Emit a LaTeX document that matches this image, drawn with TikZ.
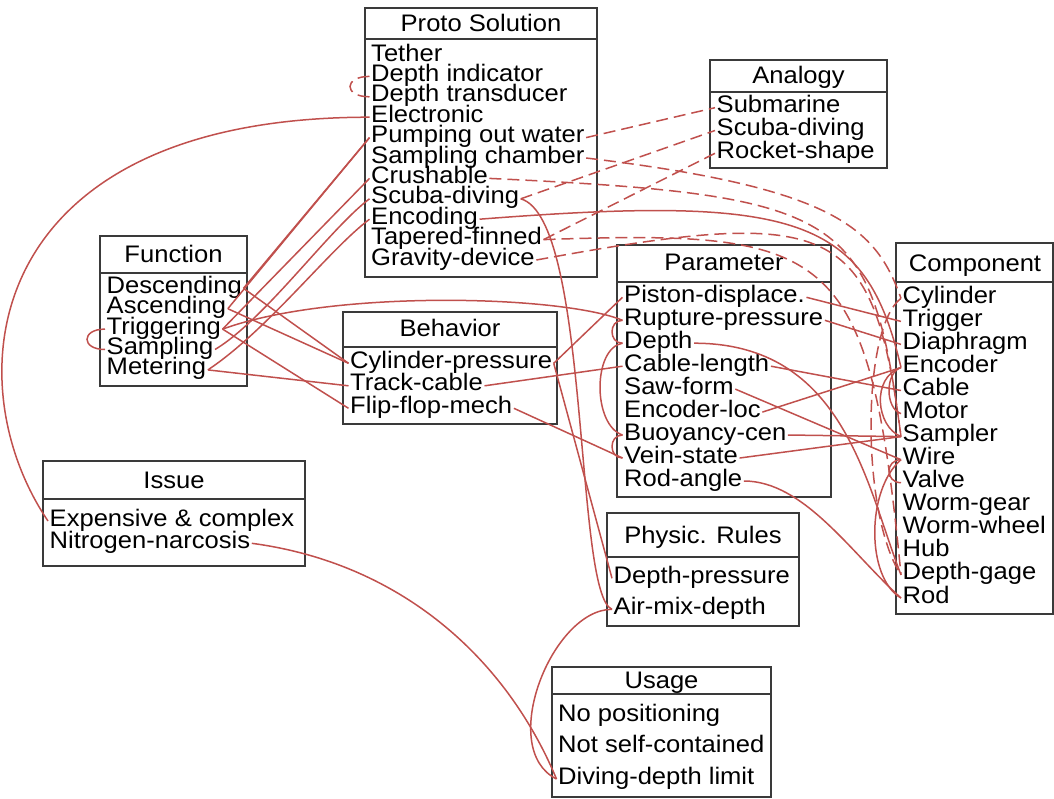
\documentclass[tikz,border=0pt]{standalone}
\usepackage{fontspec}
\setmainfont{Liberation Sans}[FakeStretch=1.07]
\definecolor{linkred}{HTML}{C0504D}
\definecolor{framegray}{HTML}{3A3A3A}
\begin{document}
\begin{tikzpicture}[x=1pt,y=-1pt,
  every node/.style={font=\fontsize{23.9pt}{24pt}\selectfont},
  frame/.style={draw=framegray, line width=1.4pt},
  title/.style={anchor=base, inner sep=0pt},
  item/.style={anchor=base west, inner xsep=1.5pt, inner ysep=0pt, text height=10pt, text depth=0pt},
  link/.style={draw=linkred, line width=1.5pt},
  dlink/.style={link, dash pattern=on 12pt off 6pt},
]
\useasboundingbox (0,0) rectangle (1054,798);

% ---------- Proto Solution ----------
\draw[frame] (365,8) rectangle (597,277);
\draw[frame] (365,39) -- (597,39);
\node[title] (t-proto) at (481,31) {Proto Solution};
\node[item] (ps-tether) at (369.5,61)   {Tether};
\node[item] (ps-dind)   at (369.5,81.4) {Depth indicator};
\node[item] (ps-dtra)   at (369.5,101.8){Depth transducer};
\node[item] (ps-elec)   at (369.5,122.2){Electronic};
\node[item] (ps-pump)   at (369.5,142.6){Pumping out water};
\node[item] (ps-samp)   at (369.5,163)  {Sampling chamber};
\node[item] (ps-crush)  at (369.5,183.4){Crushable};
\node[item] (ps-scuba)  at (369.5,203.8){Scuba-diving};
\node[item] (ps-enc)    at (369.5,224.2){Encoding};
\node[item] (ps-taper)  at (369.5,244.6){Tapered-finned};
\node[item] (ps-grav)   at (369.5,265)  {Gravity-device};

% ---------- Analogy ----------
\draw[frame] (710,60) rectangle (887,168);
\draw[frame] (710,92) -- (887,92);
\node[title] (t-analogy) at (798.5,83) {Analogy};
\node[item] (an-sub)   at (715,112.7) {Submarine};
\node[item] (an-scuba) at (715,135.5) {Scuba-diving};
\node[item] (an-rock)  at (715,158.3) {Rocket-shape};

% ---------- Function ----------
\draw[frame] (100,236) rectangle (247,386);
\draw[frame] (100,273) -- (247,273);
\node[title] (t-function) at (173.5,262) {Function};
\node[item] (fn-desc) at (105,293.3) {Descending};
\node[item] (fn-asc)  at (105,313.7) {Ascending};
\node[item] (fn-trig) at (105,334.1) {Triggering};
\node[item] (fn-samp) at (105,354.5) {Sampling};
\node[item] (fn-met)  at (105,374.9) {Metering};

% ---------- Behavior ----------
\draw[frame] (343,312) rectangle (557,424);
\draw[frame] (343,347) -- (557,347);
\node[title] (t-behavior) at (450,336) {Behavior};
\node[item] (bh-cyl)   at (348.5,368.3) {Cylinder-pressure};
\node[item] (bh-track) at (348.5,390.8) {Track-cable};
\node[item] (bh-flip)  at (348.5,413.3) {Flip-flop-mech};

% ---------- Parameter ----------
\draw[frame] (617,245) rectangle (831,497);
\draw[frame] (617,282) -- (831,282);
\node[title] (t-parameter) at (724,270) {Parameter};
\node[item] (pa-pist)  at (622.5,302.3) {Piston-displace.};
\node[item] (pa-rupt)  at (622.5,325.3) {Rupture-pressure};
\node[item] (pa-depth) at (622.5,348.2) {Depth};
\node[item] (pa-cable) at (622.5,371.2) {Cable-length};
\node[item] (pa-saw)   at (622.5,394.1) {Saw-form};
\node[item] (pa-encl)  at (622.5,417.1) {Encoder-loc};
\node[item] (pa-buoy)  at (622.5,440)   {Buoyancy-cen};
\node[item] (pa-vein)  at (622.5,463)   {Vein-state};
\node[item] (pa-rod)   at (622.5,486)   {Rod-angle};

% ---------- Component ----------
\draw[frame] (896,243) rectangle (1053,614);
\draw[frame] (896,282) -- (1053,282);
\node[title] (t-component) at (975,271) {Component};
\node[item] (co-cyl)    at (901,303.3) {Cylinder};
\node[item] (co-trig)   at (901,326.4) {Trigger};
\node[item] (co-diaph)  at (901,349.4) {Diaphragm};
\node[item] (co-enc)    at (901,372.5) {Encoder};
\node[item] (co-cable)  at (901,395.5) {Cable};
\node[item] (co-motor)  at (901,418.6) {Motor};
\node[item] (co-samp)   at (901,441.6) {Sampler};
\node[item] (co-wire)   at (901,464.7) {Wire};
\node[item] (co-valve)  at (901,487.7) {Valve};
\node[item] (co-wgear)  at (901,510.8) {Worm-gear};
\node[item] (co-wwheel) at (901,533.8) {Worm-wheel};
\node[item] (co-hub)    at (901,556.9) {Hub};
\node[item] (co-dgage)  at (901,579.9) {Depth-gage};
\node[item] (co-rod)    at (901,603)   {Rod};

% ---------- Issue ----------
\draw[frame] (43,461) rectangle (305,566);
\draw[frame] (43,499) -- (305,499);
\node[title] (t-issue) at (174,488.4) {Issue};
\node[item] (is-exp)   at (48,526)   {Expensive \& complex};
\node[item] (is-nitro) at (48,548.3) {Nitrogen-narcosis};

% ---------- Physic. Rules ----------
\draw[frame] (607,513) rectangle (799,626);
\draw[frame] (607,557) -- (799,557);
\node[title] (t-physic) at (703,543.3) {Physic. Rules};
\node[item] (pr-dp)  at (612,583.3) {Depth-pressure};
\node[item] (pr-air) at (612,614.3) {Air-mix-depth};

% ---------- Usage ----------
\draw[frame] (552,667) rectangle (771,797);
\draw[frame] (552,694) -- (771,694);
\node[title] (t-usage) at (661.5,688.6) {Usage};
\node[item] (us-nopos)   at (556.5,721.7) {No positioning};
\node[item] (us-notself) at (556.5,752.3) {Not self-contained};
\node[item] (us-dive)    at (556.5,784)   {Diving-depth limit};

% ---------- solid links ----------
\draw[link] (ps-elec.west) .. controls +(-390,0) and +(-95,-140) .. (is-exp.west);
\draw[link] (fn-desc.east) -- (ps-pump.west);
\draw[link] (fn-asc.east) -- (ps-pump.west);
\draw[link] (fn-trig.east) -- (ps-crush.west);
\draw[link] (fn-samp.east) .. controls +(50,-30) and +(-40,30) .. (ps-scuba.west);
\draw[link] (fn-met.east) .. controls +(60,-40) and +(-40,30) .. (ps-enc.west);
\draw[link] (fn-desc.east) -- (bh-cyl.west);
\draw[link] (fn-asc.east) -- (bh-cyl.west);
\draw[link] (fn-trig.east) .. controls +(110,-40) and +(-60,-25) .. (pa-rupt.west);
\draw[link] (fn-trig.east) -- (bh-flip.west);
\draw[link] (fn-met.east) -- (bh-track.west);
\draw[link] (fn-trig.west) .. controls +(-24,0) and +(-24,0) .. (fn-samp.west);
\draw[link] (bh-cyl.east) -- (pa-pist.west);
\draw[link] (bh-cyl.east) -- (pr-dp.west);
\draw[link] (ps-scuba.east) .. controls +(70,20) and +(-38,-15) .. (pr-air.west);
\draw[link] (bh-track.east) -- (pa-cable.west);
\draw[link] (bh-flip.east) -- (pa-vein.west);
\draw[link] (pa-rupt.west) .. controls +(-14,0) and +(-14,0) .. (pa-depth.west);
\draw[link] (pa-depth.west) .. controls +(-30,5) and +(-30,-10) .. (pa-buoy.west);
\draw[link] (pa-buoy.west) .. controls +(-14,0) and +(-14,0) .. (pa-vein.west);
\draw[link] (pa-pist.east) -- (co-trig.west);
\draw[link] (pa-rupt.east) -- (co-diaph.west);
\draw[link] (pa-depth.east) .. controls +(150,0) and +(-35,-90) .. (co-dgage.west);
\draw[link] (pa-cable.east) -- (co-cable.west);
\draw[link] (pa-saw.east) -- (co-wire.west);
\draw[link] (pa-encl.east) -- (co-enc.west);
\draw[link] (pa-buoy.east) -- (co-samp.west);
\draw[link] (pa-vein.east) -- (co-samp.west);
\draw[link] (pa-rod.east) .. controls +(60,0) and +(-50,-45) .. (co-rod.west);
\draw[link] (ps-enc.east) .. controls +(320,-25) and +(-35,-150) .. (co-enc.west);
\draw[link] (co-enc.west) .. controls +(-16,5) and +(-16,-5) .. (co-motor.west);
\draw[link] (co-enc.west) .. controls +(-30,10) and +(-25,-10) .. (co-samp.west);
\draw[link] (co-wire.west) .. controls +(-16,0) and +(-16,0) .. (co-valve.west);
\draw[link] (co-wire.west) .. controls +(-35,30) and +(-35,-20) .. (co-rod.west);
\draw[link] (is-nitro.east) .. controls +(150,20) and +(-50,-120) .. (us-dive.west);
\draw[link] (pr-air.west) .. controls +(-60,0) and +(-60,-30) .. (us-dive.west);

% ---------- dashed links ----------
\draw[dlink] (ps-dind.west) .. controls +(-26,0) and +(-26,0) .. (ps-dtra.west);
\draw[dlink] (ps-pump.east) -- (an-sub.west);
\draw[dlink] (ps-scuba.east) -- (an-scuba.west);
\draw[dlink] (ps-taper.east) -- (an-rock.west);
\draw[dlink] (ps-samp.east) .. controls +(250,30) and +(-25,-70) .. (co-cyl.west);
\draw[dlink] (ps-crush.east) .. controls +(360,17) and +(-30,-223) .. (co-samp.west);
\draw[dlink] (ps-grav.east) .. controls +(300,-55) and +(-28,-215) .. (co-samp.west);
\draw[dlink] (ps-taper.east) .. controls +(290,-10) and +(-32,-330) .. (co-dgage.west);
\draw[dlink] (co-cyl.west) .. controls +(-40,30) and +(-40,-60) .. (co-dgage.west);
\end{tikzpicture}
\end{document}
